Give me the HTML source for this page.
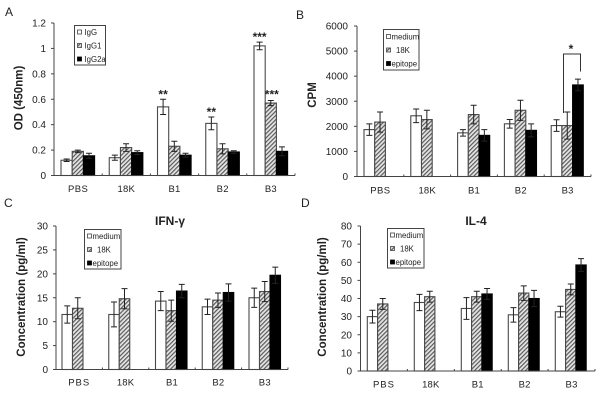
<!DOCTYPE html>
<html>
<head>
<meta charset="utf-8">
<title>Four panel bar chart</title>
<style>
html,body{margin:0;padding:0;background:#fff;width:600px;height:406px;overflow:hidden}
svg{display:block;filter:blur(0.35px)}
text{font-family:"Liberation Sans",sans-serif;fill:#222}
</style>
</head>
<body>
<svg id="figure" xmlns="http://www.w3.org/2000/svg" width="600" height="406" viewBox="0 0 600 406">
<defs>
<pattern id="hatch" patternUnits="userSpaceOnUse" width="3" height="3" patternTransform="rotate(45)">
<rect width="3" height="3" fill="#e6e6e6"></rect>
<rect width="1.2" height="3" fill="#5a5a5a"></rect>
</pattern>
</defs>
</svg>
<script>
const categories = ['PBS', '18K', 'B1', 'B2', 'B3'];

const aTicks = ['0', '0.2', '0.4', '0.6', '0.8', '1', '1.2'];
const aIgG = [0.12, 0.14, 0.54, 0.41, 1.02];
const aIgGErr = [0.01, 0.02, 0.06, 0.05, 0.03];
const aIgG1 = [0.19, 0.22, 0.23, 0.21, 0.57];
const aIgG1Err = [0.01, 0.03, 0.04, 0.04, 0.02];
const aIgG2a = [0.155, 0.18, 0.16, 0.185, 0.19];
const aIgG2aErr = [0.02, 0.015, 0.015, 0.01, 0.035];

const bTicks = ['0', '1000', '2000', '3000', '4000', '5000', '6000'];
const bMedium = [1870, 2420, 1740, 2100, 2030];
const bMediumErr = [230, 270, 130, 170, 230];
const b18K = [2170, 2270, 2470, 2640, 2030];
const b18KErr = [400, 370, 370, 400, 540];
const bEpitope = [null, null, 1640, 1840, 3650];
const bEpitopeErr = [null, null, 230, 260, 230];

const cTicks = ['0', '5', '10', '15', '20', '25', '30'];
const cMedium = [11.5, 11.5, 14.3, 13.1, 15];
const cMediumErr = [1.8, 2.6, 2, 1.6, 2];
const c18K = [12.8, 14.8, 12.3, 14.5, 16.3];
const c18KErr = [2.2, 2.1, 2.2, 1.5, 2.1];
const cEpitope = [null, null, 16.4, 16.1, 19.7];
const cEpitopeErr = [null, null, 1.4, 1.8, 1.7];

const dTicks = ['0', '10', '20', '30', '40', '50', '60', '70', '80'];
const dMedium = [30, 37.8, 34.5, 31, 32.7];
const dMediumErr = [3.5, 4.5, 6, 4, 3];
const d18K = [37, 41, 41, 43, 45];
const d18KErr = [3, 3, 3, 4, 3];
const dEpitope = [null, null, 42.5, 40, 58.5];
const dEpitopeErr = [null, null, 3, 4.5, 3.5];

const svg = document.getElementById('figure');
const NS = 'http://www.w3.org/2000/svg';

function make(tag, attrs, parent, txt) {
  const el = document.createElementNS(NS, tag);
  for (const k in attrs) el.setAttribute(k, attrs[k]);
  if (txt !== undefined) el.textContent = txt;
  parent.appendChild(el);
  return el;
}

const fills = ['#fff', 'url(#hatch)', '#000'];

function drawPanel(p) {
  const g = make('g', {}, svg);
  
  

  const maxV = Number(p.ticks[p.ticks.length - 1]);
  const y = v => p.y0 - (v / maxV) * (p.y0 - p.yTop);
  const groupW = (p.xEnd - p.x0) / categories.length;
  const barX = (i, s) => p.barStart + i * p.groupStep + s * p.barW;

  // panel letter
  const letter = make('text', { x: p.letterX, y: p.letterY, 'font-size': 12 }, g, p.letter);
  
  

  // bars and error bars
  p.series.forEach((s, si) => {
    s.values.forEach((v, i) => {
      if (v === null) return;
      const bar = make('rect', {
        x: barX(i, si), y: y(v), width: p.barW, height: p.y0 - y(v),
        fill: fills[si], stroke: si === 2 ? '#000' : '#4a4a4a', 'stroke-width': 1.1
      }, g);
      
      

      const cx = barX(i, si) + p.barW / 2;
      const e = s.errors[i];
      const err = make('path', {
        d: 'M' + cx + ' ' + y(v + e) + 'V' + y(v - e) +
           'M' + (cx - 3) + ' ' + y(v + e) + 'H' + (cx + 3) +
           'M' + (cx - 3) + ' ' + y(v - e) + 'H' + (cx + 3),
        stroke: '#222', fill: 'none', 'stroke-width': 1
      }, g);
      
      
    });
  });

  // axes
  const yAxis = make('line', { x1: p.x0, x2: p.x0, y1: p.yTop, y2: p.y0, stroke: '#444', 'stroke-width': 1 }, g);
  
  
  const xAxis = make('line', { x1: p.x0, x2: p.xEnd, y1: p.y0, y2: p.y0, stroke: '#444', 'stroke-width': 1 }, g);
  
  

  p.ticks.forEach(t => {
    const ty = y(Number(t));
    const tick = make('line', { x1: p.x0 - 3, x2: p.x0, y1: ty, y2: ty, stroke: '#444', 'stroke-width': 1 }, g);
    
    
    const label = make('text', { x: p.tickRight, y: ty + 3.5, 'text-anchor': 'end', 'font-size': 10 }, g, t);
    
    
  });

  categories.forEach((c, i) => {
    const tx = p.x0 + groupW * (i + 1);
    const tick = make('line', { x1: tx, x2: tx, y1: p.y0, y2: p.y0 - 2, stroke: '#444', 'stroke-width': 1 }, g);
    
    
    const label = make('text', {
      x: p.x0 + groupW * (i + 0.5), y: p.catY, 'text-anchor': 'middle', 'font-size': 9.5,
      'letter-spacing': c === 'PBS' ? p.pbsSpacing : 0.2
    }, g, c);
    
    
  });

  // y-axis title
  const yTitle = make('text', {
    transform: 'translate(' + p.yTitleX + ',' + p.yTitleY + ') rotate(-90)',
    'text-anchor': 'middle', 'font-size': p.yTitleSize, 'font-weight': 'bold'
  }, g, p.yTitle);
  
  

  // chart title
  if (p.title) {
    const title = make('text', {
      x: p.titleX, y: 225, 'text-anchor': 'middle', 'font-size': 12, 'font-weight': 'bold'
    }, g, p.title);
    
    
  }

  // legend
  const L = p.legend;
  const legend = make('g', {}, g);
  
  
  const box = make('rect', {
    x: L.x, y: L.y, width: L.w, height: L.h, fill: '#fff', stroke: '#444', 'stroke-width': 1
  }, legend);
  
  
  p.series.forEach((s, si) => {
    const ly = L.y + L.firstRow + si * L.rowGap;
    const swatch = make('rect', {
      x: L.x + 3, y: ly - 2, width: 4, height: 4,
      fill: fills[si], stroke: si === 2 ? '#000' : '#444', 'stroke-width': 0.8
    }, legend);
    
    
    const text = make('text', {
      x: L.x + L.textDx + (s.label === '18K' ? 4.5 : 0), y: ly + 3, 'font-size': 7.8
    }, legend, s.label);
    
    
  });

  // significance markers
  (p.stars || []).forEach(st => {
    const v = p.series[st.series].values[st.index];
    const e = p.series[st.series].errors[st.index];
    const mark = make('text', {
      x: barX(st.index, st.series) + p.barW / 2 + (st.dx || 0),
      y: y(v + e) - st.gap,
      'text-anchor': 'middle', 'font-size': 12, 'font-weight': 'bold'
    }, g, st.text);
    
    
  });

  return { y, barX };
}

drawPanel({
  key: 'a', letter: 'A', letterX: 5, letterY: 16,
  x0: 54, xEnd: 295, y0: 175.5, yTop: 23, barStart: 61, groupStep: 48.25, barW: 11.2,
  ticks: aTicks, tickRight: 46, catY: 192, pbsSpacing: 0.4,
  yTitle: 'OD (450nm)', yTitleX: 22.5, yTitleY: 98, yTitleSize: 11.5,
  legend: { x: 74.5, y: 25.5, w: 31, h: 39.5, firstRow: 6.5, rowGap: 13.5, textDx: 10 },
  series: [
    { name: 'igg', label: 'IgG', values: aIgG, errors: aIgGErr },
    { name: 'igg1', label: 'IgG1', values: aIgG1, errors: aIgG1Err },
    { name: 'igg2a', label: 'IgG2a', values: aIgG2a, errors: aIgG2aErr }
  ],
  stars: [
    { series: 0, index: 2, text: '**', gap: 1 },
    { series: 0, index: 3, text: '**', gap: 1 },
    { series: 0, index: 4, text: '***', gap: 1 },
    { series: 1, index: 4, text: '***', gap: 2, dx: 1 }
  ]
});

drawPanel({
  key: 'b', letter: 'B', letterX: 296, letterY: 19,
  x0: 357, xEnd: 591, y0: 176.5, yTop: 26, barStart: 364, groupStep: 46.8, barW: 10.7,
  ticks: bTicks, tickRight: 348, catY: 193.5, pbsSpacing: 0.4,
  yTitle: 'CPM', yTitleX: 316, yTitleY: 95, yTitleSize: 11.5,
  legend: { x: 383.5, y: 29.5, w: 35.5, h: 40.5, firstRow: 7, rowGap: 13.5, textDx: 8 },
  series: [
    { name: 'medium', label: 'medium', values: bMedium, errors: bMediumErr },
    { name: '18k', label: '18K', values: b18K, errors: b18KErr },
    { name: 'epitope', label: 'epitope', values: bEpitope, errors: bEpitopeErr }
  ]
});

const bracket = make('path', {
  d: 'M563.5 113V54H580.5V71.5', fill: 'none', stroke: '#333', 'stroke-width': 1
}, svg);


const bracketStar = make('text', {
  x: 571, y: 53, 'text-anchor': 'middle', 'font-size': 12, 'font-weight': 'bold'
}, svg, '*');



drawPanel({
  key: 'c', letter: 'C', letterX: 4, letterY: 207,
  x0: 56, xEnd: 288, y0: 369.5, yTop: 226, barStart: 62, groupStep: 46.75, barW: 10.5,
  ticks: cTicks, tickRight: 48, catY: 385.5, pbsSpacing: 1,
  yTitle: 'Concentration (pg/ml)', yTitleX: 25, yTitleY: 297, yTitleSize: 11.5,
  title: 'IFN-\u03b3', titleX: 170,
  legend: { x: 84.5, y: 229.5, w: 36.5, h: 39.5, firstRow: 6.5, rowGap: 13.5, textDx: 8 },
  series: [
    { name: 'medium', label: 'medium', values: cMedium, errors: cMediumErr },
    { name: '18k', label: '18K', values: c18K, errors: c18KErr },
    { name: 'epitope', label: 'epitope', values: cEpitope, errors: cEpitopeErr }
  ]
});

drawPanel({
  key: 'd', letter: 'D', letterX: 301, letterY: 207,
  x0: 360.5, xEnd: 595, y0: 371, yTop: 226, barStart: 367.3, groupStep: 47, barW: 10.3,
  ticks: dTicks, tickRight: 352, catY: 387.5, pbsSpacing: 1,
  yTitle: 'Concentration (pg/ml)', yTitleX: 326, yTitleY: 297, yTitleSize: 11.5,
  title: 'IL-4', titleX: 476,
  legend: { x: 387.5, y: 228.5, w: 36.5, h: 39.5, firstRow: 6.5, rowGap: 13.5, textDx: 8 },
  series: [
    { name: 'medium', label: 'medium', values: dMedium, errors: dMediumErr },
    { name: '18k', label: '18K', values: d18K, errors: d18KErr },
    { name: 'epitope', label: 'epitope', values: dEpitope, errors: dEpitopeErr }
  ]
});
</script>
</body>
</html>
